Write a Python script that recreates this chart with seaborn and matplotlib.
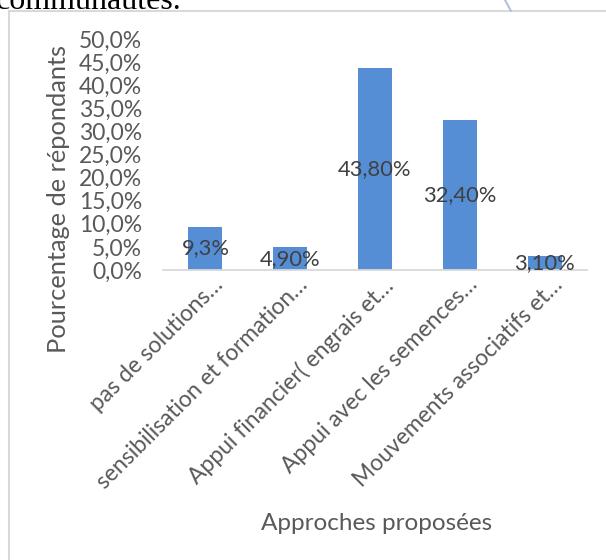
import matplotlib
matplotlib.use("Agg")
import matplotlib.pyplot as plt
import matplotlib.transforms as mtransforms
from matplotlib.lines import Line2D
import seaborn as sns
import pandas as pd

# Survey results: proposed approaches and share of respondents (%)
categories = [
    "pas de solutions…",
    "sensibilisation et formation…",
    "Appui financier( engrais et…",
    "Appui avec les semences…",
    "Mouvements associatifs et…",
]
values = [9.3, 4.9, 43.8, 32.4, 3.1]
value_labels = ["9,3%", "4,90%", "43,80%", "32,40%", "3,10%"]
y_ticks = [0, 5, 10, 15, 20, 25, 30, 35, 40, 45, 50]
y_tick_labels = ["0,0%", "5,0%", "10,0%", "15,0%", "20,0%", "25,0%",
                 "30,0%", "35,0%", "40,0%", "45,0%", "50,0%"]
y_title = "Pourcentage de répondants"
x_title = "Approches proposées"

sns.set_style("white")
plt.rcParams["font.family"] = ["Lato", "DejaVu Sans"]

W, H = 606, 560
fig = plt.figure(figsize=(W / 100, H / 100), dpi=100)
fig.patch.set_facecolor("white")

# plot area in pixel coordinates
x0, x1, ybot, ytop = 163, 587, 270, 39
ax = fig.add_axes([x0 / W, 1 - ybot / H, (x1 - x0) / W, (ybot - ytop) / H])

df = pd.DataFrame({"cat": categories, "val": values})
sns.barplot(data=df, x="cat", y="val", color="#558ed5", saturation=1,
            width=0.4, ax=ax, edgecolor="none")

ax.set_ylim(0, 50)
ax.set_xlim(-0.5, len(categories) - 0.5)
ax.set_yticks(y_ticks)
ax.set_yticklabels(y_tick_labels, fontsize=16.5, color="#595959")
ax.tick_params(axis="y", length=0, pad=15)
ax.set_xlabel("")
ax.set_ylabel("")

for s in ["top", "right", "left"]:
    ax.spines[s].set_visible(False)
ax.spines["bottom"].set_color("#d9d9d9")
ax.spines["bottom"].set_linewidth(1.3)

# category boundary tick marks
ax.set_xticks([i - 0.5 for i in range(len(categories) + 1)], minor=True)
ax.tick_params(axis="x", which="minor", length=6, width=1.3, color="#d9d9d9", direction="out")
ax.set_xticks(range(len(categories)))
ax.set_xticklabels([])
ax.tick_params(axis="x", which="major", length=0)

# rotated category labels
offset = mtransforms.ScaledTranslation(7 / 100, -4 / 100, fig.dpi_scale_trans)
trans = mtransforms.blended_transform_factory(ax.transData, ax.transAxes) + offset
for i, lab in enumerate(categories):
    ax.text(i, 0, lab, transform=trans, rotation=45, ha="right", va="top",
            rotation_mode="anchor", fontsize=16.5, color="#595959")

# value labels at bar centre
for i, (v, lab) in enumerate(zip(values, value_labels)):
    ax.text(i, v / 2, lab, ha="center", va="center", fontsize=15.8, color="#404040")

# axis titles
fig.text(59 / W, 1 - 199 / H, y_title, rotation=90, ha="center", va="center",
         fontsize=18.3, color="#595959")
fig.text(377 / W, 1 - 523 / H, x_title, ha="center", va="center",
         fontsize=17.5, color="#595959")

# chart frame
fig.add_artist(Line2D([9 / W, 9 / W], [0, 1 - 11 / H], transform=fig.transFigure,
                      color="#d9d9d9", lw=1.5))
fig.add_artist(Line2D([9 / W, 1], [1 - 11 / H, 1 - 11 / H], transform=fig.transFigure,
                      color="#d9d9d9", lw=1.5))
fig.add_artist(Line2D([505 / W, 511 / W], [1, 1 - 11 / H], transform=fig.transFigure,
                      color="#b0c2dc", lw=1.5))

# preceding document text
fig.text(-4 / W, 1 - 9 / H, "communautés.", ha="left", va="baseline",
         fontsize=23, family="Liberation Serif", color="black")

fig.savefig("out.png", dpi=100, facecolor="white")
